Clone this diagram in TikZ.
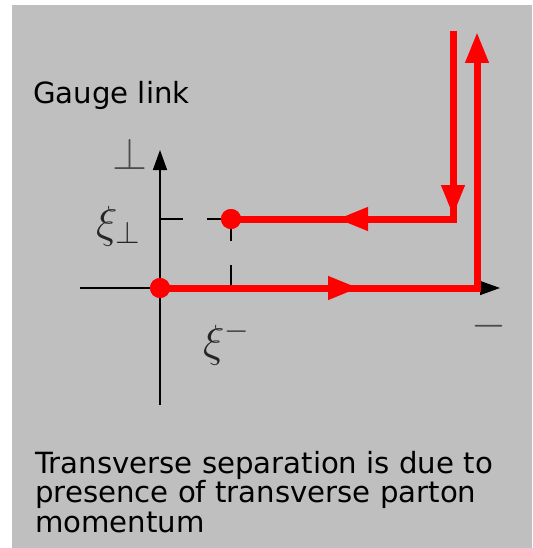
\RequirePackage{fix-cm}
\documentclass[tikz,border=0pt]{standalone}
\usepackage{fontspec}
\setmainfont{DejaVu Sans}
\usetikzlibrary{arrows.meta}
\definecolor{bggray}{RGB}{191,191,191}
\definecolor{lnred}{RGB}{255,0,0}
\tikzset{
  redline/.style={draw=lnred, line width=7pt},
  redtip/.style={-{Triangle[length=31pt,width=22pt]}},
  axisline/.style={draw=black, line width=1.5pt, -{Triangle[length=20pt,width=14pt]}},
  tickline/.style={draw=black, line width=1.3pt, dash pattern=on 23pt off 24pt},
  dot/.style={circle, fill=lnred, minimum size=20pt, inner sep=0pt},
  bigtext/.style={inner sep=0pt, anchor=base west, font=\fontsize{29.2}{34}\selectfont},
  mathlab/.style={inner sep=0pt, font=\fontsize{45}{50}\selectfont},
}
\begin{document}
\begin{tikzpicture}[x=1pt,y=-1pt]
\useasboundingbox (0,0) rectangle (532,548);
\fill[white] (0,0) rectangle (532,548);
\fill[bggray] (12,5) rectangle (532,548);

% axes
\coordinate (vb) at (160,405);
\coordinate (vt) at (160,150);
\coordinate (hl) at (80,288);
\coordinate (hr) at (500,288);
\draw[axisline] (vb) -- (vt);
\draw[axisline] (hl) -- (hr);

% dashed guides
\coordinate (ty) at (160,219);
\coordinate (tx) at (231,288);
\node[dot] (p) at (231,219) {};
\node[dot] (o) at (160,288) {};
\draw[tickline] (ty) -- (p.center);
\draw[tickline] (tx) -- (p.center);

% lower red path
\coordinate (m1) at (359,288);
\coordinate (c1) at (477,288);
\coordinate (e1) at (477,32);
\draw[redline, redtip] (o.center) -- (c1) -- (e1);
\draw[redline, redtip] (o.center) -- (m1);

% upper red path
\coordinate (s2) at (453,31);
\coordinate (m2) at (453,216);
\coordinate (c2) at (453,219);
\coordinate (m3) at (337,219);
\draw[redline] (s2) -- (c2) -- (p.center);
\draw[redline, redtip] (s2) -- (m2);
\draw[redline, redtip] (c2) -- (m3);

% redraw dots on top
\node[dot] at (p) {};
\node[dot] at (o) {};

% labels
\node[mathlab, anchor=base, text=black!70] (lperp) at (130,169) {$\perp$};
\node[mathlab, anchor=base, text=black!70] (lminus) at (489,337) {$-$};
\node[mathlab, anchor=base west, text=black!85] (lxip) at (96,237) {$\xi_\perp$};
\node[mathlab, anchor=base west, text=black!85] (lxim) at (203,356) {$\xi^-$};

\node[bigtext] (title) at (33,104) {Gauge link};
\node[bigtext] (t1) at (35,473) {Transverse separation is due to};
\node[bigtext] (t2) at (35,502.5) {presence of transverse parton};
\node[bigtext] (t3) at (35,532) {momentum};
\end{tikzpicture}
\end{document}
